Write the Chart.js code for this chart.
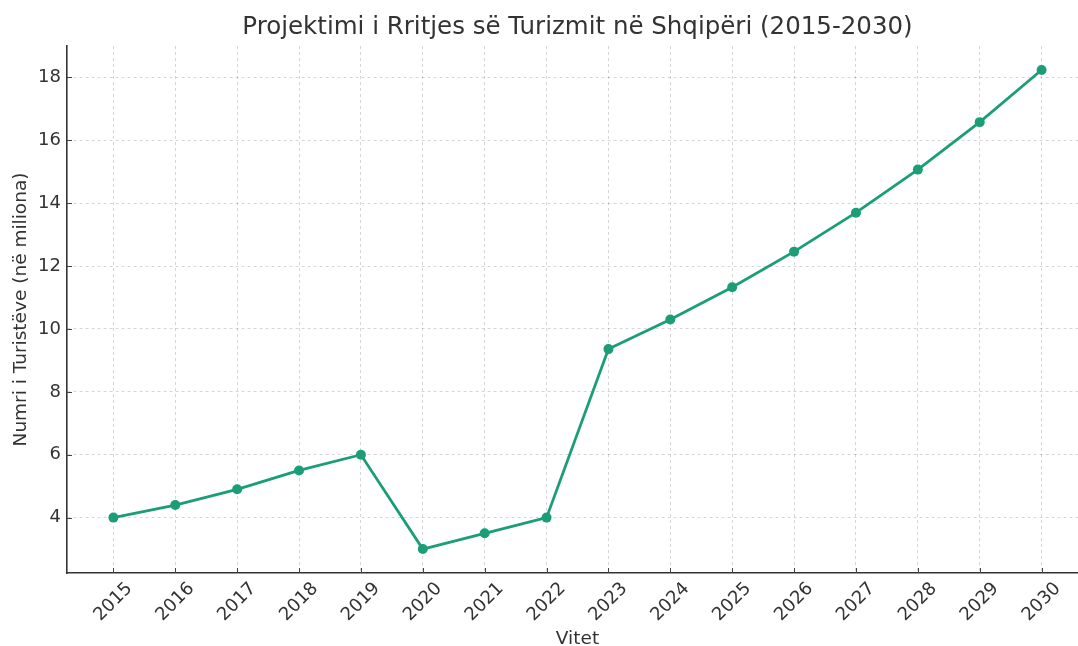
<!DOCTYPE html>
<html>
<head>
<meta charset="utf-8">
<script src="https://cdn.jsdelivr.net/npm/chart.js@4.4.0/dist/chart.umd.min.js"></script>
<style>
    html, body { margin: 0; padding: 0; background: #fff; overflow: hidden; }
    #wrap { width: 1100px; height: 646px; }
</style>
</head>
<body>
<div id="wrap"><canvas id="turizmiChart" width="1100" height="646"></canvas></div>
<script>
// Vitet dhe numri i turistëve (në miliona)
const vitet = [2015, 2016, 2017, 2018, 2019, 2020, 2021, 2022, 2023, 2024, 2025, 2026, 2027, 2028, 2029, 2030];
const turistet = [4.0, 4.4, 4.9, 5.5, 6.0, 3.0, 3.5, 4.0, 9.36, 10.3, 11.33, 12.46, 13.7, 15.07, 16.58, 18.24];
const yTicks = [4, 6, 8, 10, 12, 14, 16, 18];

const titulli = "Projektimi i Rritjes së Turizmit në Shqipëri (2015-2030)";
const titulliX = "Vitet";
const titulliY = "Numri i Turistëve (në miliona)";

const ngjyra = "#1b9e77";
const font = "DejaVu Sans";

// titulli, etiketat e viteve dhe vijat e vogla te boshtet
const vizatoTekstet = {
    id: "vizatoTekstet",
    afterDraw(chart) {
        const ctx = chart.ctx;
        const x = chart.scales.x;
        const y = chart.scales.y;
        const area = chart.chartArea;

        ctx.save();
        // vijat e vogla brenda boshteve
        ctx.strokeStyle = "#444";
        ctx.lineWidth = 1;
        yTicks.forEach(v => {
            const py = Math.round(y.getPixelForValue(v)) + 0.5;
            ctx.beginPath();
            ctx.moveTo(area.left, py);
            ctx.lineTo(area.left + 5, py);
            ctx.stroke();
        });
        vitet.forEach(v => {
            const px = Math.round(x.getPixelForValue(v)) + 0.5;
            ctx.beginPath();
            ctx.moveTo(px, area.bottom);
            ctx.lineTo(px, area.bottom - 5);
            ctx.stroke();
        });

        // vitet, të rrotulluara 45 gradë
        ctx.fillStyle = "#333";
        ctx.font = `18px "${font}"`;
        ctx.textAlign = "center";
        ctx.textBaseline = "middle";
        vitet.forEach(v => {
            ctx.save();
            ctx.translate(x.getPixelForValue(v), area.bottom + 29);
            ctx.rotate(-Math.PI / 4);
            ctx.fillText(String(v), 0, 0);
            ctx.restore();
        });

        // titulli në qendër të zonës së grafikut
        ctx.font = `24.5px "${font}"`;
        ctx.textBaseline = "alphabetic";
        ctx.fillText(titulli, x.getPixelForValue((vitet[0] + vitet[vitet.length - 1]) / 2), 34);
        ctx.restore();
    }
};

const ctx = document.getElementById("turizmiChart").getContext("2d");

new Chart(ctx, {
    type: "line",
    data: {
        datasets: [{
            data: vitet.map((v, i) => ({ x: v, y: turistet[i] })),
            borderColor: ngjyra,
            backgroundColor: ngjyra,
            borderWidth: 2.8,
            pointRadius: 5,
            pointBorderWidth: 0,
            pointBackgroundColor: ngjyra,
            tension: 0,
            fill: false
        }]
    },
    options: {
        responsive: false,
        animation: false,
        events: [],
        layout: {
            padding: { top: 46, right: 12, bottom: 0, left: 0 }
        },
        plugins: {
            legend: { display: false },
            title: { display: false },
            tooltip: { enabled: false }
        },
        scales: {
            x: {
                type: "linear",
                min: 2014.25,
                max: 2030.75,
                afterFit: (scale) => { scale.height = 73; },
                afterBuildTicks: (scale) => { scale.ticks = vitet.map(v => ({ value: v })); },
                ticks: { display: false },
                grid: {
                    color: "rgba(0,0,0,0.16)",
                    lineWidth: 1,
                    drawTicks: false
                },
                border: { display: true, color: "#333", width: 1.6, dash: [3, 3] },
                title: {
                    display: true,
                    text: titulliX,
                    color: "#333",
                    font: { family: font, size: 18.5 },
                    padding: { top: 0, bottom: -4 }
                }
            },
            y: {
                type: "linear",
                min: 2.238,
                max: 19.002,
                afterFit: (scale) => { scale.width = 67; },
                afterBuildTicks: (scale) => { scale.ticks = yTicks.map(v => ({ value: v })); },
                ticks: {
                    color: "#333",
                    font: { family: font, size: 18 },
                    padding: 6
                },
                grid: {
                    color: "rgba(0,0,0,0.16)",
                    lineWidth: 1,
                    drawTicks: false
                },
                border: { display: true, color: "#333", width: 1.6, dash: [3, 3] },
                title: {
                    display: true,
                    text: titulliY,
                    color: "#333",
                    font: { family: font, size: 18.5 },
                    padding: { top: 9.6, bottom: 0 }
                }
            }
        }
    },
    plugins: [vizatoTekstet]
});
</script>
</body>
</html>
